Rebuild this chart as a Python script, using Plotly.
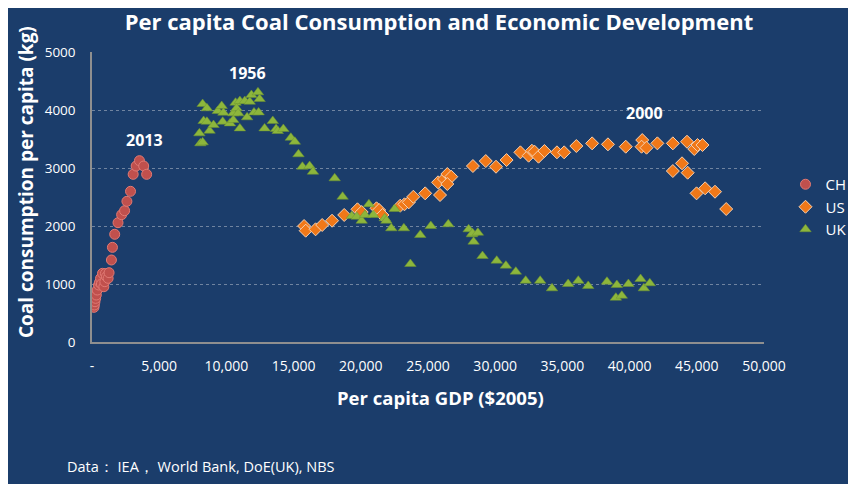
import plotly.graph_objects as go

# Per capita GDP ($2005) vs coal consumption per capita (kg)
ch_gdp = [147, 171, 220, 270, 319, 392, 490, 560, 637, 700, 784, 882, 955, 1000, 1078, 1200,
          1270, 1445, 1520, 1690, 1935, 2205, 2425, 2597, 2866, 3063, 3285, 3530, 3845, 4066]
ch_coal = [598, 638, 695, 753, 810, 896, 983, 1030, 1098, 1000, 1184, 953, 1040, 1180, 1126, 1098,
           1195, 1414, 1632, 1857, 2057, 2195, 2264, 2425, 2598, 2891, 3034, 3126, 3034, 2891]

us_gdp = [15780, 15900, 16635, 17125, 17860, 18765, 19750, 20066, 21168, 21365, 21610, 22932,
          23250, 23572, 23910, 24792, 25895, 25748, 26190, 26436, 26730, 26436, 28343, 29300,
          30060, 30846, 31875, 32487, 32730, 32928, 33222, 33663, 34595, 35130, 36037, 37213,
          38389, 39713, 40940, 40890, 41260, 42068, 43218, 44270, 44810, 45052, 45420, 43900,
          43218, 44320, 44982, 45620, 46355, 47187]
us_coal = [2000, 1919, 1943, 2017, 2091, 2190, 2288, 2241, 2305, 2276, 2190, 2350,
           2374, 2408, 2505, 2563, 2534, 2753, 2810, 2896, 2850, 2724, 3034, 3120,
           3022, 3137, 3270, 3212, 3298, 3281, 3195, 3293, 3270, 3270, 3379, 3425,
           3408, 3367, 3482, 3367, 3350, 3425, 3425, 3453, 3327, 3396, 3396, 3081,
           2948, 2919, 2563, 2650, 2591, 2293]

uk_gdp = [7990, 8063, 8232, 8232, 8306, 8550, 8550, 8747, 9040, 9357, 9650, 9724, 9776,
          10265, 10510, 10510, 10680, 10753, 10878, 11002, 11002, 11370, 11540, 11737, 11860,
          12054, 12348, 12397, 12472, 12840, 13450, 13697, 13818, 14237, 14795, 15090, 15362,
          15656, 16192, 16442, 18058, 18645, 19330, 19698, 20066, 20309, 20603, 20926, 21778,
          21903, 22270, 22513, 23204, 23690, 24424, 25210, 26510, 28025, 28270, 28320, 28710,
          28393, 29055, 30113, 30797, 31532, 32267, 33346, 34228, 35427, 36184, 36920, 38316,
          38978, 39419, 39051, 39911, 40817, 41062, 41503]
uk_coal = [3597, 3425, 3442, 4103, 3810, 4029, 3798, 3643, 3741, 3982, 4069, 3798, 3953,
           3769, 3942, 3827, 4126, 4029, 3942, 4155, 3683, 4155, 3873, 4143, 4258,
           3959, 4304, 3959, 4189, 3683, 3810, 3672, 3638, 3672, 3522, 3453, 3236,
           3022, 3034, 2936, 2822, 2505, 2172, 2160, 2091, 2190, 2374, 2190, 2132,
           2091, 1960, 2293, 1960, 1345, 1845, 2000, 2029, 1943, 1857, 1874, 1884,
           1730, 1483, 1402, 1316, 1213, 1057, 1057, 925, 1000, 1057, 966, 1040,
           764, 798, 983, 1000, 1086, 925, 1012]

x_ticks = [0, 5000, 10000, 15000, 20000, 25000, 30000, 35000, 40000, 45000, 50000]
x_labels = ["-", "5,000", "10,000", "15,000", "20,000", "25,000", "30,000",
            "35,000", "40,000", "45,000", "50,000"]
y_ticks = [0, 1000, 2000, 3000, 4000, 5000]

# year labels next to the peaks
peak_years = ["2013", "1956", "2000"]
peak_x = [3900, 11540, 41090]
peak_y = [3480, 4640, 3950]

BG = "#1b3d6b"
FONT = "Open Sans"

fig = go.Figure()
fig.add_trace(go.Scatter(
    x=ch_gdp, y=ch_coal, mode="markers", name="CH",
    marker=dict(symbol="circle", size=10, color="#c0504d",
                line=dict(color="#e07a74", width=1))))
fig.add_trace(go.Scatter(
    x=us_gdp, y=us_coal, mode="markers", name="US",
    marker=dict(symbol="diamond", size=10, color="#f07818",
                line=dict(color="#f6d0b0", width=1))))
fig.add_trace(go.Scatter(
    x=uk_gdp, y=uk_coal, mode="markers", name="UK",
    marker=dict(symbol="triangle-up", size=10, color="#8db63c",
                line=dict(color="#6f9430", width=0.5))))

for txt, px, py in zip(peak_years, peak_x, peak_y):
    fig.add_annotation(x=px, y=py, text="<b>%s</b>" % txt, showarrow=False,
                       font=dict(family=FONT, size=16, color="white"))

# axis titles as annotations (placed like the original, slightly off-centre)
fig.add_annotation(x=-0.098, y=0.552, xref="paper", yref="paper", textangle=-90,
                   xanchor="center", yanchor="middle",
                   text="<b>Coal consumption per capita (kg)</b>", showarrow=False,
                   font=dict(family=FONT, size=19, color="white"))
fig.add_annotation(x=0.518, y=-0.19, xref="paper", yref="paper",
                   xanchor="center", yanchor="middle",
                   text="<b>Per capita GDP ($2005)</b>", showarrow=False,
                   font=dict(family=FONT, size=18.5, color="white"))

# data-source note
fig.add_annotation(x=-0.04, y=-0.431, xref="paper", yref="paper",
                   text="Data： IEA， World Bank, DoE(UK), NBS",
                   showarrow=False, xanchor="left", yanchor="middle",
                   font=dict(family=FONT, size=14.5, color="white"))

fig.update_layout(
    width=856, height=484,
    paper_bgcolor=BG, plot_bgcolor=BG,
    margin=dict(l=84, r=92, t=44, b=150),
    font=dict(family=FONT, color="white", size=13),
    title=dict(text="<b>Per capita Coal Consumption and Economic Development</b>",
               x=0.5035, xanchor="center", y=0.97, yanchor="middle",
               font=dict(family=FONT, size=22, color="white")),
    showlegend=True,
    legend=dict(x=1.032, y=0.60, xanchor="left", yanchor="top",
                font=dict(family=FONT, size=15, color="white"),
                bgcolor="rgba(0,0,0,0)", tracegroupgap=6, itemwidth=30,
                borderwidth=0),
    xaxis=dict(range=[0, 50000], tickvals=x_ticks, ticktext=x_labels,
               showgrid=False, zeroline=False, showline=True, linecolor="#8f8f8f",
               linewidth=1.5, ticks="", automargin=False, ticklabelstandoff=10,
               tickfont=dict(size=14, color="white")),
    yaxis=dict(range=[0, 5000], tickvals=y_ticks, showgrid=True,
               gridcolor="rgba(170,180,195,0.6)", griddash="dot", gridwidth=1,
               zeroline=False, showline=True, linecolor="#8f8f8f", linewidth=1.5,
               ticks="", ticklabelstandoff=12, automargin=False,
               tickfont=dict(size=13.5, color="white")),
)

fig.write_html("out.html")
